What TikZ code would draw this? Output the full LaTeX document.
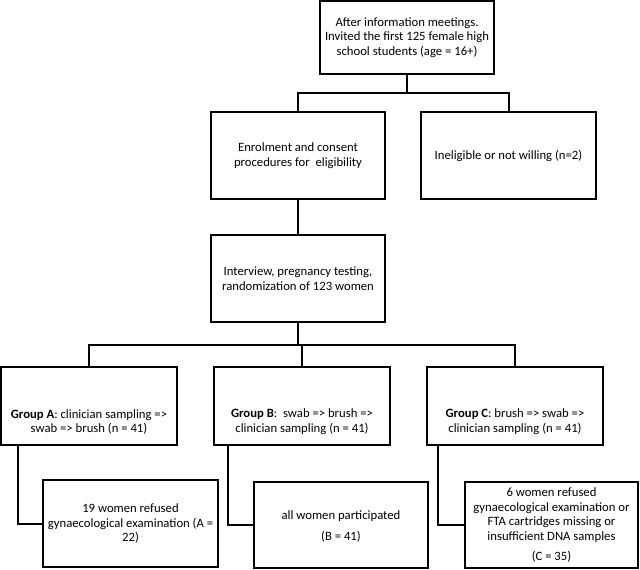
\documentclass[tikz,border=0pt]{standalone}
\usepackage{fontspec}
\setmainfont{Carlito}
\usetikzlibrary{fit}
\begin{document}
\begin{tikzpicture}[x=1pt,y=-1pt,
  box/.style={draw,line width=2pt,inner sep=0pt},
  txt/.style={align=center,font=\fontsize{12.7}{14.7}\selectfont,inner sep=0pt},
  conn/.style={line width=2pt}]
\useasboundingbox (0,0) rectangle (640,570);
% boxes
\node[box,fit={(320,1) (494,74)}] (top) {};
\node[box,fit={(211,112) (385,199)}] (enrol) {};
\node[box,fit={(421,112) (596,199)}] (inel) {};
\node[box,fit={(211,235) (385,322)}] (inter) {};
\node[box,fit={(1,367) (177,445)}] (gA) {};
\node[box,fit={(214,367) (390,445)}] (gB) {};
\node[box,fit={(427,367) (603,445)}] (gC) {};
\node[box,fit={(43,480) (218,567)}] (rA) {};
\node[box,fit={(254,482) (428,568)}] (rB) {};
\node[box,fit={(465,482) (638,568)}] (rC) {};
% texts
\node[txt] (topt) at (top.center) {After information meetings.\\Invited the first 125 female high\\school students (age = 16+)};
\node[txt] (enrolt) at (enrol.center) {Enrolment and consent\\procedures for\ \ eligibility};
\node[txt] (inelt) at (inel.center) {Ineligible or not willing (n=2)};
\node[txt] (intert) at (inter.center) {Interview, pregnancy testing,\\randomization of 123 women};
\node[txt] (gAt) at (89,422) {\textbf{Group A}: clinician sampling =>\\swab => brush (n = 41)};
\node[txt] (gBt) at (302,422) {\textbf{Group B}:\ \ swab => brush =>\\clinician sampling (n = 41)};
\node[txt] (gCt) at (515,422) {\textbf{Group C}: brush => swab =>\\clinician sampling (n = 41)};
\node[txt] (rAt) at (rA.center) {19 women refused\\gynaecological examination (A =\\22)};
\node[txt] (rBt) at (341,526.5) {all women participated\\[6.5pt](B = 41)};
\node[txt] (rCt) at (551.5,525) {6 women refused\\gynaecological examination or\\FTA cartridges missing or\\insufficient DNA samples\\[5.5pt](C = 35)};
% connectors
\coordinate (h1) at (407,93);
\draw[conn] (top.south) -- (h1);
\draw[conn] (enrol.north) -- (enrol.north |- h1) -- (inel.north |- h1) -- (inel.north);
\draw[conn] (enrol.south) -- (inter.north);
\coordinate (h2) at (298,345);
\draw[conn] (inter.south) -- (h2);
\draw[conn] (gA.north) -- (gA.north |- h2) -- (gC.north |- h2) -- (gC.north);
\draw[conn] (gB.north) -- (gB.north |- h2);
\draw[conn] (18,445) -- (18,523.5) -- (rA.west);
\draw[conn] (228,445) -- (228,525) -- (rB.west);
\draw[conn] (438,445) -- (438,525) -- (rC.west);
\end{tikzpicture}
\end{document}
